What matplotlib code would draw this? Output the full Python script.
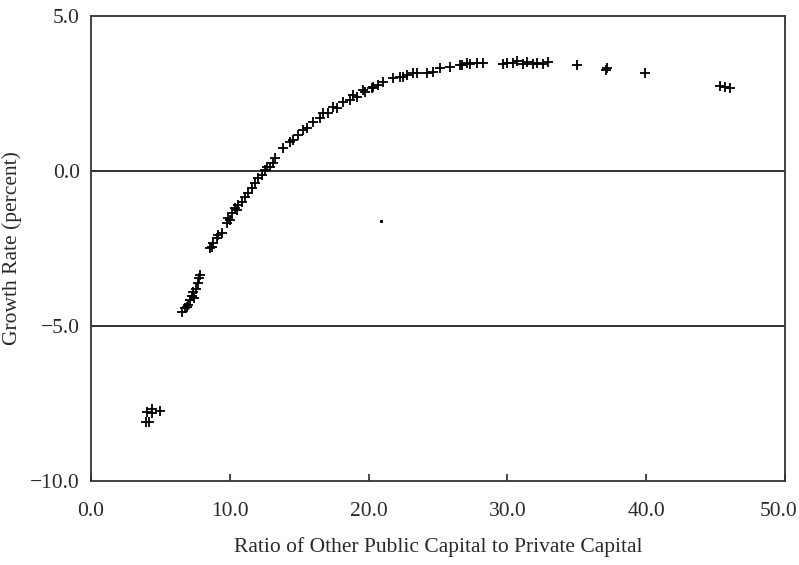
import numpy as np
import matplotlib
matplotlib.use("Agg")
import matplotlib.pyplot as plt
import matplotlib.transforms as mtransforms

# --- Daten ---
ratio = [
    3.96, 4.03, 4.18, 4.39, 4.39, 4.97,
    6.56, 6.77, 6.92, 6.99, 7.13, 7.28, 7.35, 7.42, 7.56, 7.71, 7.78, 7.85,
    8.57, 8.72, 8.79, 9.08, 9.15, 9.44,
    9.80, 9.87, 10.01, 10.16, 10.37, 10.52, 10.59, 10.88, 11.10, 11.31,
    11.60, 11.82, 12.03, 12.32, 12.54, 12.68, 12.90, 13.11, 13.26, 13.83,
    14.34, 14.55, 14.91, 15.27, 15.56, 15.99, 16.50, 16.71, 17.07, 17.44,
    17.72, 18.16, 18.66, 18.88, 19.16, 19.60, 19.74, 20.24, 20.32, 20.68,
    21.04, 21.76, 22.26, 22.48, 22.77, 23.20, 23.49, 24.21, 24.64, 25.14,
    25.86, 26.59, 26.73, 27.09, 27.31, 27.81, 28.24, 29.68, 29.97, 30.40,
    30.69, 31.12, 31.41, 31.84, 32.13, 32.56, 32.93, 35.01, 37.10, 37.18,
    39.91, 45.32, 45.68, 46.04,
]
growth = [
    -8.10, -7.77, -8.10, -7.81, -7.68, -7.74,
    -4.55, -4.42, -4.39, -4.32, -4.16, -4.03, -3.90, -4.10, -3.81, -3.61, -3.45, -3.35,
    -2.48, -2.45, -2.32, -2.16, -2.06, -2.00,
    -1.68, -1.52, -1.58, -1.35, -1.19, -1.26, -1.10, -1.00, -0.84, -0.71,
    -0.55, -0.39, -0.23, -0.13, 0.03, 0.13, 0.13, 0.26, 0.42, 0.74,
    0.94, 1.00, 1.16, 1.32, 1.39, 1.58, 1.71, 1.87, 1.87, 2.06,
    2.03, 2.23, 2.29, 2.45, 2.39, 2.61, 2.55, 2.68, 2.71, 2.77,
    2.87, 3.00, 3.03, 3.03, 3.10, 3.16, 3.16, 3.16, 3.19, 3.32,
    3.35, 3.42, 3.42, 3.48, 3.45, 3.48, 3.48, 3.45, 3.48, 3.48,
    3.55, 3.45, 3.52, 3.45, 3.48, 3.45, 3.52, 3.42, 3.26, 3.32,
    3.16, 2.74, 2.71, 2.68,
]
# einzelner Punkt abseits der Kurve
stray_x = [20.9]
stray_y = [-1.61]

x_ticks = [0, 10, 20, 30, 40, 50]
y_ticks = [-10, -5, 0, 5]

TEXT_COLOR = "#2a2a2a"
FS = 15.5

plt.rcParams["font.family"] = ["Liberation Serif", "DejaVu Serif"]

fig = plt.figure(figsize=(7.99, 5.65), dpi=100)
ax = fig.add_axes([0.1139, 0.1487, 0.9825 - 0.1139, 0.9717 - 0.1487])

ax.plot(ratio, growth, linestyle="none", marker="+", color="black",
        markersize=7, markeredgewidth=1.3)
ax.plot(stray_x, stray_y, linestyle="none", marker="s", color="black",
        markersize=1.2)

ax.set_xlim(0, 50)
ax.set_ylim(-10, 5)
ax.set_xticks(x_ticks)
ax.set_xticklabels([f"{v:.1f}" for v in x_ticks])
ax.set_yticks(y_ticks)
ax.set_yticklabels([f"{v:.1f}".replace("-", "\u2212") for v in y_ticks])

ax.tick_params(axis="x", direction="in", length=5, width=1.2, pad=15,
               labelsize=FS, colors=TEXT_COLOR)
ax.tick_params(axis="y", length=0, pad=8, labelsize=FS, colors=TEXT_COLOR)

# letzte Beschriftung etwas nach links, damit sie nicht abgeschnitten wird
last = ax.get_xticklabels()[-1]
last.set_transform(last.get_transform() +
                   mtransforms.ScaledTranslation(-6 / 100, 0, fig.dpi_scale_trans))

for v in [0, -5]:
    ax.axhline(v, color="#222222", linewidth=1.3, zorder=1)

for s in ax.spines.values():
    s.set_linewidth(1.3)
    s.set_color("#333333")

ax.set_xlabel("Ratio of Other Public Capital to Private Capital",
              fontsize=FS, color=TEXT_COLOR, labelpad=12)
ax.set_ylabel("Growth Rate (percent)", fontsize=FS, color=TEXT_COLOR,
              labelpad=6)

fig.savefig("out.png", dpi=100)
plt.close(fig)
